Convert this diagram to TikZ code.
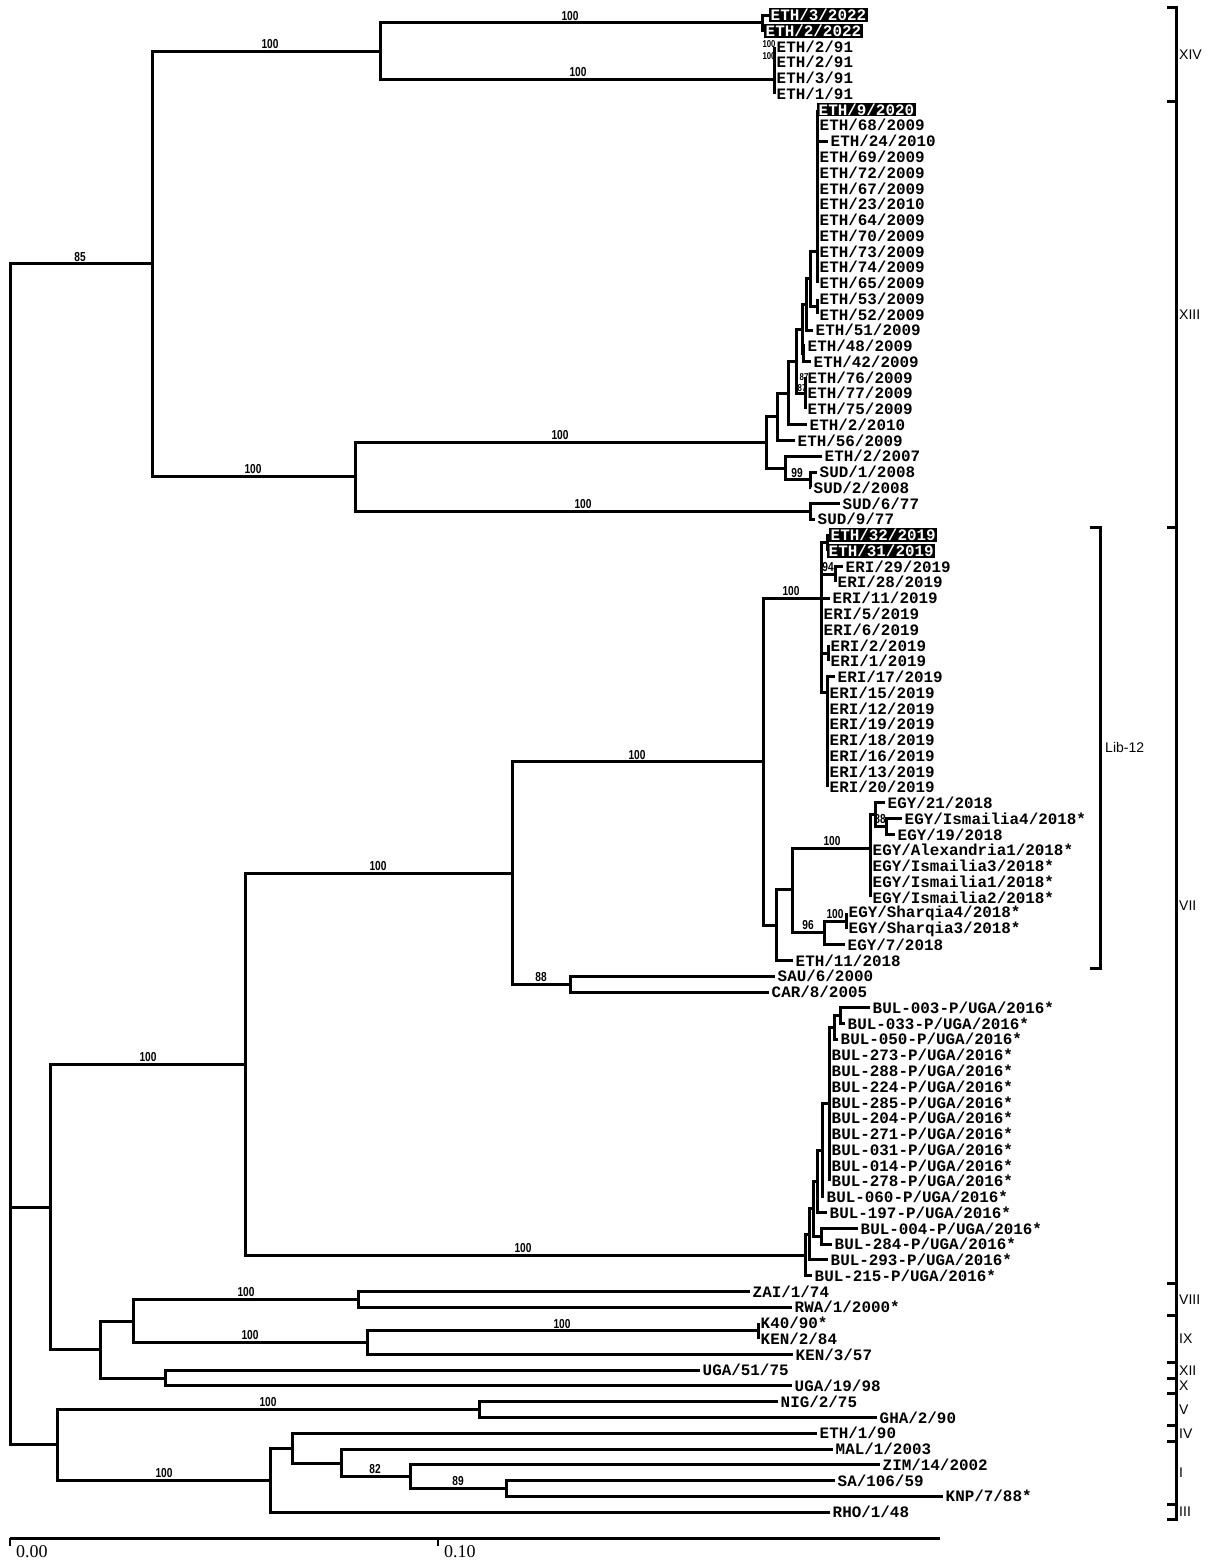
\documentclass[tikz,border=0pt]{standalone}
\usepackage{fontspec}
\setmainfont{Liberation Serif}
\newfontfamily\leaffont{Liberation Mono}
\newfontfamily\bootfont[FakeStretch=0.78]{Liberation Sans}
\newfontfamily\cladefont{Liberation Sans}
\usetikzlibrary{positioning}

\begin{document}
\begin{tikzpicture}[
        x=1pt, y=-15.758pt,
        % Branches of the tree
        branch/.style={line width=3pt},
        % Taxon labels
        leaf/.style={anchor=west, inner xsep=2.5pt, inner ysep=1pt,
            font=\leaffont\bfseries\fontsize{15.9}{16}\selectfont},
        hilite/.style={leaf, fill=black, text=white, inner xsep=1.5pt},
        % Bootstrap values
        boot/.style={anchor=south, inner sep=1pt, yshift=1.5pt,
            font=\bootfont\bfseries\fontsize{13}{13}\selectfont},
        tinyboot/.style={boot, anchor=center, yshift=0pt,
            font=\bootfont\bfseries\fontsize{10}{10}\selectfont},
        % Genotype labels
        clade/.style={anchor=west, inner sep=1pt,
            font=\cladefont\fontsize{14}{14}\selectfont},
        bar/.style={line width=3pt}
    ]
    \useasboundingbox (0,0.048) rectangle (1211,99.17);

    % Internal nodes
    \coordinate (root) at (10,76.65);
    \coordinate (nA) at (152,16.8);
    \coordinate (n14) at (380,3.3);
    \coordinate (n14a) at (762,1.5);
    \coordinate (n14b) at (774,5.1);
    \coordinate (n13) at (355,30.3);
    \coordinate (nsud77) at (810,32.5);
    \coordinate (n13a) at (766,28.1);
    \coordinate (n13b) at (777,26.5);
    \coordinate (n13c) at (785,29.75);
    \coordinate (nsud) at (810,30.5);
    \coordinate (n13d) at (788,24.99);
    \coordinate (n13e) at (796,22.97);
    \coordinate (n87) at (805,25);
    \coordinate (n13f) at (802,20.95);
    \coordinate (n13h) at (803,22.5);
    \coordinate (n13g) at (806,19.4);
    \coordinate (n13i) at (810,17.75);
    \coordinate (npoly) at (817,16);
    \coordinate (n53) at (817,19.5);

    \coordinate (nB) at (50,76.65);
    \coordinate (n7) at (245,67.6);
    \coordinate (n7a) at (512,55.45);
    \coordinate (nsc) at (570,62.5);
    \coordinate (nlib) at (763,48.4);
    \coordinate (neri) at (821,38);
    \coordinate (neth19) at (827,34.5);
    \coordinate (n94) at (835,36.5);
    \coordinate (neri21) at (828,41.5);
    \coordinate (neri17) at (827,44);
    \coordinate (negyall) at (776,58.75);
    \coordinate (negy) at (792,56.5);
    \coordinate (negy100) at (870,53.9);
    \coordinate (negy21) at (875,51.75);
    \coordinate (n88) at (886,52.5);
    \coordinate (nsh) at (824,59.2);
    \coordinate (nsh100) at (846,58.5);

    \coordinate (nbul) at (805,79.7);
    \coordinate (nb2) at (809,78.4);
    \coordinate (nb3) at (813,76.75);
    \coordinate (nb004) at (821,78.5);
    \coordinate (nb4) at (817,75.0);
    \coordinate (nb5) at (822,73.05);
    \coordinate (nb6) at (829,70.1);
    \coordinate (nb7) at (834,65.25);
    \coordinate (nb8) at (840,64.5);

    \coordinate (nC1) at (100,85.7);
    \coordinate (nC2) at (133,83.9);
    \coordinate (nC3) at (165,87.5);
    \coordinate (n8) at (358,82.5);
    \coordinate (n9) at (367,85.25);
    \coordinate (nk40) at (758,84.5);
    \coordinate (nD) at (57,91.7);
    \coordinate (n5) at (479,89.5);
    \coordinate (nE) at (270,93.97);
    \coordinate (nE2) at (292,91.95);
    \coordinate (nE3) at (341,92.9);
    \coordinate (nE4) at (410,93.75);
    \coordinate (nE5) at (506,94.5);

    % Taxa
    \node[hilite] (l1) at (769,1) {ETH/3/2022};
    \node[hilite] (l2) at (764,2) {ETH/2/2022};
    \node[leaf] (l3) at (774,3) {ETH/2/91};
    \node[leaf] (l4) at (774,4) {ETH/2/91};
    \node[leaf] (l5) at (774,5) {ETH/3/91};
    \node[leaf] (l6) at (774,6) {ETH/1/91};
    \node[hilite] (l7) at (817,7) {ETH/9/2020};
    \node[leaf] (l8) at (817,8) {ETH/68/2009};
    \node[leaf] (l9) at (828,9) {ETH/24/2010};
    \node[leaf] (l10) at (817,10) {ETH/69/2009};
    \node[leaf] (l11) at (817,11) {ETH/72/2009};
    \node[leaf] (l12) at (817,12) {ETH/67/2009};
    \node[leaf] (l13) at (817,13) {ETH/23/2010};
    \node[leaf] (l14) at (817,14) {ETH/64/2009};
    \node[leaf] (l15) at (817,15) {ETH/70/2009};
    \node[leaf] (l16) at (817,16) {ETH/73/2009};
    \node[leaf] (l17) at (817,17) {ETH/74/2009};
    \node[leaf] (l18) at (817,18) {ETH/65/2009};
    \node[leaf] (l19) at (817,19) {ETH/53/2009};
    \node[leaf] (l20) at (817,20) {ETH/52/2009};
    \node[leaf] (l21) at (813,21) {ETH/51/2009};
    \node[leaf] (l22) at (805,22) {ETH/48/2009};
    \node[leaf] (l23) at (811,23) {ETH/42/2009};
    \node[leaf] (l24) at (805,24) {ETH/76/2009};
    \node[leaf] (l25) at (805,25) {ETH/77/2009};
    \node[leaf] (l26) at (805,26) {ETH/75/2009};
    \node[leaf] (l27) at (807,27) {ETH/2/2010};
    \node[leaf] (l28) at (795,28) {ETH/56/2009};
    \node[leaf] (l29) at (822,29) {ETH/2/2007};
    \node[leaf] (l30) at (817,30) {SUD/1/2008};
    \node[leaf] (l31) at (811,31) {SUD/2/2008};
    \node[leaf] (l32) at (840,32) {SUD/6/77};
    \node[leaf] (l33) at (815,33) {SUD/9/77};
    \node[hilite] (l34) at (829,34) {ETH/32/2019};
    \node[hilite] (l35) at (827,35) {ETH/31/2019};
    \node[leaf] (l36) at (843,36) {ERI/29/2019};
    \node[leaf] (l37) at (835,37) {ERI/28/2019};
    \node[leaf] (l38) at (830,38) {ERI/11/2019};
    \node[leaf] (l39) at (821,39) {ERI/5/2019};
    \node[leaf] (l40) at (821,40) {ERI/6/2019};
    \node[leaf] (l41) at (828,41) {ERI/2/2019};
    \node[leaf] (l42) at (828,42) {ERI/1/2019};
    \node[leaf] (l43) at (835,43) {ERI/17/2019};
    \node[leaf] (l44) at (827,44) {ERI/15/2019};
    \node[leaf] (l45) at (827,45) {ERI/12/2019};
    \node[leaf] (l46) at (827,46) {ERI/19/2019};
    \node[leaf] (l47) at (827,47) {ERI/18/2019};
    \node[leaf] (l48) at (827,48) {ERI/16/2019};
    \node[leaf] (l49) at (827,49) {ERI/13/2019};
    \node[leaf] (l50) at (827,50) {ERI/20/2019};
    \node[leaf] (l51) at (885,51) {EGY/21/2018};
    \node[leaf] (l52) at (902,52) {EGY/Ismailia4/2018*};
    \node[leaf] (l53) at (895,53) {EGY/19/2018};
    \node[leaf] (l54) at (870,54) {EGY/Alexandria1/2018*};
    \node[leaf] (l55) at (870,55) {EGY/Ismailia3/2018*};
    \node[leaf] (l56) at (870,56) {EGY/Ismailia1/2018*};
    \node[leaf] (l57) at (870,57) {EGY/Ismailia2/2018*};
    \node[leaf] (l58) at (846,58) {EGY/Sharqia4/2018*};
    \node[leaf] (l59) at (846,59) {EGY/Sharqia3/2018*};
    \node[leaf] (l60) at (845,60) {EGY/7/2018};
    \node[leaf] (l61) at (793,61) {ETH/11/2018};
    \node[leaf] (l62) at (775,62) {SAU/6/2000};
    \node[leaf] (l63) at (769,63) {CAR/8/2005};
    \node[leaf] (l64) at (870,64) {BUL-003-P/UGA/2016*};
    \node[leaf] (l65) at (845,65) {BUL-033-P/UGA/2016*};
    \node[leaf] (l66) at (838,66) {BUL-050-P/UGA/2016*};
    \node[leaf] (l67) at (829,67) {BUL-273-P/UGA/2016*};
    \node[leaf] (l68) at (829,68) {BUL-288-P/UGA/2016*};
    \node[leaf] (l69) at (829,69) {BUL-224-P/UGA/2016*};
    \node[leaf] (l70) at (829,70) {BUL-285-P/UGA/2016*};
    \node[leaf] (l71) at (829,71) {BUL-204-P/UGA/2016*};
    \node[leaf] (l72) at (829,72) {BUL-271-P/UGA/2016*};
    \node[leaf] (l73) at (829,73) {BUL-031-P/UGA/2016*};
    \node[leaf] (l74) at (829,74) {BUL-014-P/UGA/2016*};
    \node[leaf] (l75) at (829,75) {BUL-278-P/UGA/2016*};
    \node[leaf] (l76) at (824,76) {BUL-060-P/UGA/2016*};
    \node[leaf] (l77) at (827,77) {BUL-197-P/UGA/2016*};
    \node[leaf] (l78) at (858,78) {BUL-004-P/UGA/2016*};
    \node[leaf] (l79) at (832,79) {BUL-284-P/UGA/2016*};
    \node[leaf] (l80) at (828,80) {BUL-293-P/UGA/2016*};
    \node[leaf] (l81) at (812,81) {BUL-215-P/UGA/2016*};
    \node[leaf] (l82) at (750,82) {ZAI/1/74};
    \node[leaf] (l83) at (792,83) {RWA/1/2000*};
    \node[leaf] (l84) at (758,84) {K40/90*};
    \node[leaf] (l85) at (758,85) {KEN/2/84};
    \node[leaf] (l86) at (793,86) {KEN/3/57};
    \node[leaf] (l87) at (700,87) {UGA/51/75};
    \node[leaf] (l88) at (792,88) {UGA/19/98};
    \node[leaf] (l89) at (778,89) {NIG/2/75};
    \node[leaf] (l90) at (877,90) {GHA/2/90};
    \node[leaf] (l91) at (817,91) {ETH/1/90};
    \node[leaf] (l92) at (833,92) {MAL/1/2003};
    \node[leaf] (l93) at (880,93) {ZIM/14/2002};
    \node[leaf] (l94) at (835,94) {SA/106/59};
    \node[leaf] (l95) at (943,95) {KNP/7/88*};
    \node[leaf] (l96) at (830,96) {RHO/1/48};

    % Branches
    \foreach \p/\c in {root/nA, root/nB, root/nD,
        nA/n14, nA/n13, n14/n14a, n14/n14b,
        n14a/l1, n14a/l2, n14b/l3, n14b/l4, n14b/l5, n14b/l6,
        n13/n13a, n13/nsud77, nsud77/l32, nsud77/l33,
        n13a/n13b, n13a/n13c, n13c/l29, n13c/nsud, nsud/l30, nsud/l31,
        n13b/n13d, n13b/l28, n13d/n13e, n13d/l27, n13e/n13f, n13e/n87,
        n87/l24, n87/l25, n87/l26, n13f/n13g, n13f/n13h, n13h/l22, n13h/l23,
        n13g/n13i, n13g/l21, n13i/npoly, n13i/n53, n53/l19, n53/l20,
        nB/n7, nB/nC1, n7/n7a, n7/nbul, n7a/nlib, n7a/nsc, nsc/l62, nsc/l63,
        nlib/neri, nlib/negyall,
        neri/neth19, neri/n94, neri/l38, neri/l39, neri/l40, neri/neri21, neri/neri17,
        neth19/l34, neth19/l35, n94/l36, n94/l37, neri21/l41, neri21/l42,
        negyall/negy, negyall/l61, negy/negy100, negy/nsh,
        negy100/negy21, negy21/l51, negy21/n88, n88/l52, n88/l53,
        nsh/nsh100, nsh/l60, nsh100/l58, nsh100/l59,
        nbul/nb2, nbul/l81, nb2/nb3, nb2/l80, nb3/nb4, nb3/nb004,
        nb004/l78, nb004/l79, nb4/nb5, nb4/l77, nb5/nb6, nb5/l76,
        nb6/nb7, nb7/nb8, nb7/l66, nb8/l64, nb8/l65,
        nC1/nC2, nC1/nC3, nC2/n8, nC2/n9, n8/l82, n8/l83,
        n9/nk40, n9/l86, nk40/l84, nk40/l85, nC3/l87, nC3/l88,
        nD/n5, nD/nE, n5/l89, n5/l90, nE/nE2, nE/l96,
        nE2/l91, nE2/nE3, nE3/l92, nE3/nE4, nE4/l93, nE4/nE5, nE5/l94, nE5/l95}
        \draw[branch] (\p) |- (\c);
    \foreach \i in {7,...,18} \draw[branch] (npoly) |- (l\i);
    \foreach \i in {43,...,50} \draw[branch] (neri17) |- (l\i);
    \foreach \i in {54,...,57} \draw[branch] (negy100) |- (l\i);
    \foreach \i in {67,...,75} \draw[branch] (nb6) |- (l\i);

    % Bootstrap values
    \node[boot] (b1) at (80,16.8) {85};
    \node[boot] (b2) at (270,3.3) {100};
    \node[boot] (b3) at (570,1.5) {100};
    \node[boot] (b4) at (578,5.1) {100};
    \node[tinyboot] (b5) at (769,2.97) {100};
    \node[tinyboot] (b6) at (769,3.67) {100};
    \node[boot] (b7) at (253,30.3) {100};
    \node[boot] (b8) at (560,28.1) {100};
    \node[boot] (b9) at (583,32.5) {100};
    \node[boot] (b10) at (797,30.5) {99};
    \node[tinyboot] (b11) at (804,24.1) {87};
    \node[tinyboot] (b12) at (802,24.8) {87};
    \node[boot] (b13) at (637,48.4) {100};
    \node[boot] (b14) at (378,55.45) {100};
    \node[boot] (b15) at (541,62.5) {88};
    \node[boot] (b16) at (791,38) {100};
    \node[boot] (b17) at (828,36.5) {94};
    \node[boot] (b18) at (832,53.9) {100};
    \node[boot] (b19) at (880,52.5) {88};
    \node[boot] (b20) at (835,58.5) {100};
    \node[boot] (b21) at (808,59.2) {96};
    \node[boot] (b22) at (148,67.6) {100};
    \node[boot] (b23) at (523,79.7) {100};
    \node[boot] (b24) at (246,82.5) {100};
    \node[boot] (b25) at (250,85.25) {100};
    \node[boot] (b26) at (562,84.5) {100};
    \node[boot] (b27) at (268,89.5) {100};
    \node[boot] (b28) at (164,93.97) {100};
    \node[boot] (b29) at (375,93.75) {82};
    \node[boot] (b30) at (458,94.5) {89};

    % Lineage bracket
    \draw[bar] (1090,33.5) -- (1100,33.5) -- (1100,61.5) -- (1090,61.5);
    \node[clade] (lib) at (1104,47.5) {Lib-12};

    % Genotype bar
    \draw[bar] (1167,0.5) -- (1176,0.5) -- (1176,96.5) -- (1167,96.5);
    \foreach \r in {6.5,33.5,81.5,83.5,86.5,87.5,88.5,90.5,91.5,95.5}
        \draw[bar] (1167,\r) -- (1176,\r);
    \node[clade] (gxiv) at (1178,3.5) {XIV};
    \node[clade] (gxiii) at (1178,20) {XIII};
    \node[clade] (gvii) at (1178,57.5) {VII};
    \node[clade] (gviii) at (1178,82.5) {VIII};
    \node[clade] (gix) at (1178,85) {IX};
    \node[clade] (gxii) at (1178,87) {XII};
    \node[clade] (gx) at (1178,88) {X};
    \node[clade] (gv) at (1178,89.5) {V};
    \node[clade] (giv) at (1178,91) {IV};
    \node[clade] (gi) at (1178,93.5) {I};
    \node[clade] (giii) at (1178,96) {III};

    % Scale bar
    \draw[bar] (10,97.65) -- (940,97.65);
    \draw[line width=2pt] (10,97.65) -- (10,98.15);
    \draw[line width=2pt] (438,97.65) -- (438,98.15);
    \node[anchor=north west, inner sep=0pt, font=\fontsize{18}{18}\selectfont] (s0) at (16,98.1) {0.00};
    \node[anchor=north west, inner sep=0pt, font=\fontsize{18}{18}\selectfont] (s1) at (444,98.1) {0.10};

\end{tikzpicture}
\end{document}
